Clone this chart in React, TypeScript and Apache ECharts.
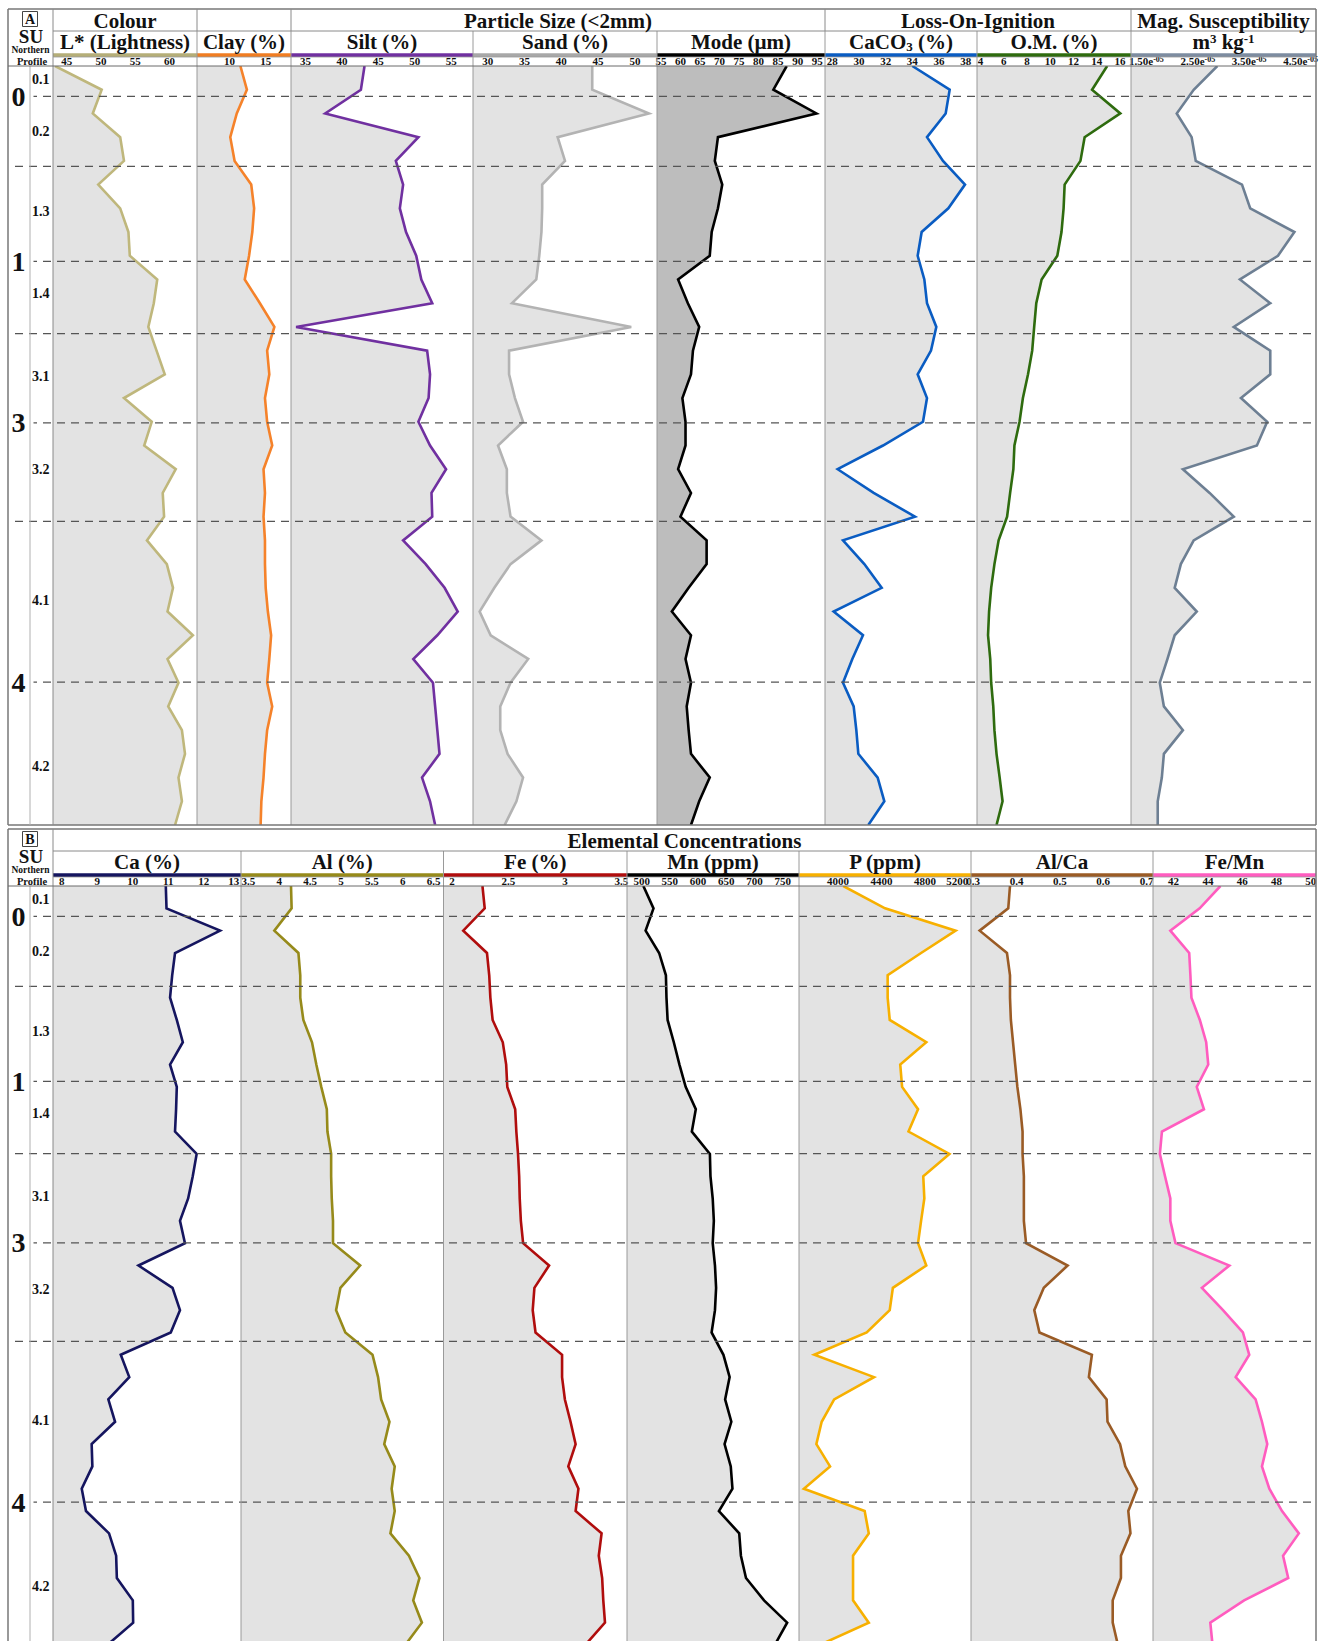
import React, { useEffect, useRef } from "react";
import * as echarts from "echarts";

const SERIF = '"Liberation Serif", "Times New Roman", Times, serif';
const FILL = "#e3e3e3";
const FILL_DARK = "#bdbdbd";
const PLOT_H = 759;
const DEPTH_MAX = 160;

// Sample depths (cm below the profile top)
const depthsA = [0, 5, 10, 15, 20, 25, 30, 35, 40, 45, 50, 55, 60, 65, 70, 75, 80, 85, 90, 95, 100, 105, 110, 115, 120, 125, 130, 135, 140, 145, 150, 155, 160];
const depthsB = [0, 4.71, 9.41, 14.12, 18.82, 23.53, 28.24, 32.94, 37.65, 42.35, 47.06, 51.76, 56.47, 61.18, 65.88, 70.59, 75.29, 80, 84.71, 89.41, 94.12, 98.82, 103.53, 108.24, 112.94, 117.65, 122.35, 127.06, 131.76, 136.47, 141.18, 145.88, 150.59, 155.29, 160];

// Stratigraphic unit boundaries and labels
const unitBoundaries = [6.4, 21.15, 41.2, 56.4, 75.25, 96.0, 129.9];
const suDepths = [6.4, 41.2, 75.25, 129.9];
const suLabels = ["0", "1", "3", "4"];
const profileDepths = [2.95, 13.85, 30.7, 47.9, 65.5, 85.0, 112.6, 147.6];
const profileLabels = ["0.1", "0.2", "1.3", "1.4", "3.1", "3.2", "4.1", "4.2"];

// Panel A series
const lightness = [43.3, 50.1, 48.8, 52.8, 53.35, 49.6, 52.8, 54.0, 54.2, 58.2, 57.7, 56.9, 58.1, 59.3, 53.35, 57.4, 56.3, 60.9, 59.0, 59.2, 56.7, 59.6, 60.5, 59.7, 63.4, 59.7, 61.3, 59.8, 61.8, 62.25, 61.3, 61.8, 60.8];
const clay = [11.5, 12.4, 11.0, 10.1, 10.7, 13.0, 13.4, 13.15, 12.7, 12.1, 14.2, 16.2, 15.2, 15.5, 14.9, 15.2, 15.9, 14.7, 14.9, 14.7, 14.9, 14.9, 15.0, 15.3, 15.75, 15.5, 15.2, 15.9, 15.2, 14.9, 14.7, 14.4, 14.3];
const silt = [43.1, 42.6, 37.7, 50.5, 47.4, 48.4, 47.95, 48.8, 50.2, 50.9, 52.4, 33.7, 51.7, 52.1, 51.9, 50.5, 52.1, 54.3, 52.3, 52.4, 48.4, 51.5, 54.1, 55.9, 53.1, 49.8, 52.5, 52.8, 53.1, 53.4, 51.0, 52.1, 52.8];
const sand = [44.2, 44.2, 51.9, 39.5, 40.5, 37.4, 37.4, 37.3, 37.0, 36.6, 33.3, 49.5, 32.9, 32.9, 33.7, 34.8, 31.4, 32.6, 32.6, 33.1, 37.3, 33.1, 30.9, 28.9, 30.4, 35.5, 33.1, 31.7, 31.7, 32.7, 34.8, 33.9, 32.3];
const mode = [87.2, 83.8, 94.8, 69.6, 68.8, 70.7, 69.6, 68.0, 67.5, 59.4, 61.9, 64.8, 63.2, 62.7, 60.5, 61.3, 61.3, 59.4, 62.7, 60.0, 66.7, 66.7, 62.1, 57.8, 62.7, 61.3, 62.7, 61.6, 62.1, 62.7, 67.5, 64.8, 62.7];
const caco3 = [34.0, 36.8, 36.5, 35.1, 36.3, 37.95, 36.7, 34.7, 34.4, 34.9, 35.1, 35.8, 35.4, 34.4, 35.1, 34.8, 31.8, 28.4, 31.1, 34.2, 28.8, 30.4, 31.7, 28.1, 30.3, 29.5, 28.8, 29.6, 29.8, 29.95, 31.4, 31.9, 30.7];
const organic = [14.9, 13.6, 16.03, 12.96, 12.6, 11.24, 11.15, 10.97, 10.61, 9.26, 8.8, 8.62, 8.45, 8.09, 7.65, 7.36, 6.92, 6.83, 6.55, 6.29, 5.56, 5.2, 4.92, 4.74, 4.65, 4.84, 4.92, 5.1, 5.2, 5.38, 5.65, 5.9, 5.38];
const magSus = [2.88, 2.42, 2.09, 2.38, 2.46, 3.36, 3.52, 4.38, 4.06, 3.32, 3.91, 3.2, 3.91, 3.91, 3.34, 3.85, 3.65, 2.21, 2.73, 3.2, 2.42, 2.17, 2.05, 2.48, 2.05, 1.91, 1.76, 1.84, 2.21, 1.84, 1.8, 1.72, 1.72];

// Panel B series
const calcium = [10.93, 10.95, 12.46, 11.19, 11.11, 11.05, 11.24, 11.41, 11.05, 11.24, 11.22, 11.19, 11.8, 11.69, 11.56, 11.33, 11.47, 10.16, 11.12, 11.33, 11.07, 9.66, 9.9, 9.31, 9.5, 8.84, 8.86, 8.56, 8.68, 9.33, 9.53, 9.55, 10.0, 10.01, 9.28];
const aluminium = [4.19, 4.2, 3.92, 4.31, 4.34, 4.34, 4.39, 4.53, 4.6, 4.68, 4.77, 4.78, 4.84, 4.84, 4.85, 4.87, 4.87, 5.31, 4.99, 4.92, 5.07, 5.51, 5.6, 5.65, 5.785, 5.7, 5.87, 5.82, 5.87, 5.8, 6.1, 6.27, 6.17, 6.31, 6.04];
const iron = [2.27, 2.29, 2.1, 2.31, 2.33, 2.34, 2.36, 2.45, 2.48, 2.49, 2.56, 2.57, 2.585, 2.595, 2.6, 2.61, 2.63, 2.86, 2.73, 2.715, 2.74, 2.975, 2.975, 3.0, 3.05, 3.095, 3.03, 3.12, 3.095, 3.325, 3.3, 3.33, 3.34, 3.355, 3.18];
const manganese = [503, 521, 507, 531, 543, 544, 546, 557, 567, 578, 596, 589, 621, 622, 626, 628, 626, 630, 632, 630, 624, 645, 656, 648, 659, 647, 658, 661, 637, 673, 676, 685, 717, 758, 736];
const phosphorus = [4048, 4433, 5083, 4765, 4457, 4457, 4476, 4813, 4573, 4590, 4737, 4649, 5026, 4785, 4795, 4765, 4737, 4813, 4505, 4476, 4264, 3781, 4331, 3964, 3849, 3800, 3926, 3685, 4245, 4283, 4138, 4138, 4138, 4283, 3830];
const alCa = [0.385, 0.381, 0.315, 0.378, 0.385, 0.385, 0.387, 0.392, 0.397, 0.402, 0.409, 0.414, 0.414, 0.417, 0.417, 0.417, 0.422, 0.518, 0.463, 0.441, 0.453, 0.574, 0.567, 0.608, 0.61, 0.639, 0.651, 0.678, 0.658, 0.663, 0.641, 0.641, 0.622, 0.622, 0.634];
const feMn = [44.73, 43.52, 41.81, 42.91, 42.98, 43.04, 43.53, 43.9, 44.02, 43.35, 43.77, 41.32, 41.2, 41.5, 41.81, 41.81, 42.11, 45.25, 43.65, 44.88, 46.04, 46.41, 45.62, 46.78, 47.15, 47.46, 47.15, 47.58, 48.32, 49.3, 48.38, 48.68, 46.11, 44.14, 44.27];

// Axis tick values
const lightTicks = [45, 50, 55, 60];
const clayTicks = [10, 15];
const siltTicks = [35, 40, 45, 50, 55];
const sandTicks = [30, 35, 40, 45, 50];
const modeTicks = [55, 60, 65, 70, 75, 80, 85, 90, 95];
const caco3Ticks = [28, 30, 32, 34, 36, 38];
const omTicks = [4, 6, 8, 10, 12, 14, 16];
const magTicks = [1.5, 2.5, 3.5, 4.5];
const caTicks = [8, 9, 10, 11, 12, 13];
const alTicks = [3.5, 4, 4.5, 5, 5.5, 6, 6.5];
const feTicks = [2, 2.5, 3, 3.5];
const mnTicks = [500, 550, 600, 650, 700, 750];
const pTicks = [4000, 4400, 4800, 5200];
const alCaTicks = [0.3, 0.4, 0.5, 0.6, 0.7];
const feMnTicks = [42, 44, 46, 48, 50];

type Column = {
  title: string;
  x0: number;
  x1: number;
  min: number;
  max: number;
  ticks: number[];
  tickLabel?: (v: number) => string;
  alignLast?: string;
  color: string;
  bar: string;
  fill: string;
  values: number[];
  depths: number[];
};

const plain = (v: number) => String(+v.toFixed(2));
const sci = (v: number) => `{m|${v.toFixed(2)}e}{e|-05}`;

const columnsA: Column[] = [
  { title: "L* (Lightness)", x0: 53, x1: 197, min: 43, max: 64, ticks: lightTicks, color: "#bfb77c", bar: "#b5ae78", fill: FILL, values: lightness, depths: depthsA },
  { title: "Clay (%)", x0: 197, x1: 291, min: 5.5, max: 18.5, ticks: clayTicks, color: "#f5822a", bar: "#f07d22", fill: FILL, values: clay, depths: depthsA },
  { title: "Silt (%)", x0: 291, x1: 473, min: 33, max: 58, ticks: siltTicks, color: "#7030a0", bar: "#7030a0", fill: FILL, values: silt, depths: depthsA },
  { title: "Sand (%)", x0: 473, x1: 657, min: 28, max: 53, ticks: sandTicks, color: "#b3b3b3", bar: "#a8a8a8", fill: FILL, values: sand, depths: depthsA },
  { title: "Mode (µm)", x0: 657, x1: 825, min: 54, max: 97, ticks: modeTicks, color: "#000000", bar: "#000000", fill: FILL_DARK, values: mode, depths: depthsA },
  { title: "{a|CaCO}{s|3}{a| (%)}", x0: 825, x1: 977, min: 27.45, max: 38.85, ticks: caco3Ticks, color: "#0a5cc2", bar: "#0a5cc2", fill: FILL, values: caco3, depths: depthsA },
  { title: "O.M. (%)", x0: 977, x1: 1131, min: 3.7, max: 16.95, ticks: omTicks, color: "#2e6b0e", bar: "#2e6b0e", fill: FILL, values: organic, depths: depthsA },
  { title: "{a|m}{p|3}{a| kg}{p|-1}", x0: 1131, x1: 1316, min: 1.2, max: 4.8, ticks: magTicks, tickLabel: sci, color: "#6d7f93", bar: "#7d8ca0", fill: FILL, values: magSus, depths: depthsA },
];

const columnsB: Column[] = [
  { title: "Ca (%)", x0: 53, x1: 241, min: 7.75, max: 13.05, ticks: caTicks, alignLast: "right", color: "#15155f", bar: "#15155f", fill: FILL, values: calcium, depths: depthsB },
  { title: "Al (%)", x0: 241, x1: 443.5, min: 3.38, max: 6.66, ticks: alTicks, color: "#968a1a", bar: "#968a1a", fill: FILL, values: aluminium, depths: depthsB },
  { title: "Fe (%)", x0: 443.5, x1: 627, min: 1.925, max: 3.55, ticks: feTicks, color: "#b00d0d", bar: "#b00d0d", fill: FILL, values: iron, depths: depthsB },
  { title: "Mn (ppm)", x0: 627, x1: 799, min: 474, max: 779, ticks: mnTicks, color: "#000000", bar: "#000000", fill: FILL, values: manganese, depths: depthsB },
  { title: "P (ppm)", x0: 799, x1: 971, min: 3640, max: 5225, ticks: pTicks, alignLast: "right", color: "#f7b000", bar: "#f7b000", fill: FILL, values: phosphorus, depths: depthsB },
  { title: "Al/Ca", x0: 971, x1: 1153, min: 0.295, max: 0.715, ticks: alCaTicks, color: "#9a5b25", bar: "#9a5b25", fill: FILL, values: alCa, depths: depthsB },
  { title: "Fe/Mn", x0: 1153, x1: 1316, min: 40.8, max: 50.3, ticks: feMnTicks, color: "#ff5cbf", bar: "#ff5cbf", fill: FILL, values: feMn, depths: depthsB },
];

type Panel = {
  letter: string;
  top: number;
  plotTop: number;
  closed: boolean;
  groups: { text: string; x0: number; x1: number }[];
  columns: Column[];
};

const panels: Panel[] = [
  {
    letter: "A",
    top: 9,
    plotTop: 66,
    closed: true,
    groups: [
      { text: "Colour", x0: 53, x1: 197 },
      { text: "", x0: 197, x1: 291 },
      { text: "Particle Size (<2mm)", x0: 291, x1: 825 },
      { text: "Loss-On-Ignition", x0: 825, x1: 1131 },
      { text: "Mag. Susceptibility", x0: 1131, x1: 1316 },
    ],
    columns: columnsA,
  },
  {
    letter: "B",
    top: 829,
    plotTop: 886,
    closed: false,
    groups: [{ text: "Elemental Concentrations", x0: 53, x1: 1316 }],
    columns: columnsB,
  },
];

const TITLE_RICH = {
  a: { fontFamily: SERIF, fontWeight: "bold", fontSize: 21, fill: "#111" },
  s: { fontFamily: SERIF, fontWeight: "bold", fontSize: 13, fill: "#111", verticalAlign: "bottom", padding: [8, 0, 0, 0] },
  p: { fontFamily: SERIF, fontWeight: "bold", fontSize: 13, fill: "#111", verticalAlign: "top", padding: [0, 0, 6, 0] },
};

const TICK_RICH = {
  m: { fontFamily: SERIF, fontWeight: "bold", fontSize: 11, color: "#111" },
  e: { fontFamily: SERIF, fontWeight: "bold", fontSize: 8, color: "#111", verticalAlign: "top", padding: [0, 0, 4, 0] },
};

function buildOption() {
  const grids: any[] = [];
  const xAxes: any[] = [];
  const yAxes: any[] = [];
  const series: any[] = [];
  const graphics: any[] = [];

  const line = (x1: number, y1: number, x2: number, y2: number, stroke: string, lineWidth = 1) =>
    graphics.push({ type: "line", z: 20, silent: true, shape: { x1, y1, x2, y2 }, style: { stroke, lineWidth } });
  const text = (x: number, y: number, t: string, size: number, extra: any = {}) =>
    graphics.push({
      type: "text",
      z: 21,
      silent: true,
      x,
      y,
      style: { text: t, font: `bold ${size}px ${SERIF}`, fill: "#111", align: "center", verticalAlign: "middle", ...extra },
    });

  const addGrid = (left: number, top: number, width: number) => {
    grids.push({ left, top, width, height: PLOT_H, show: false, containLabel: false, outerBoundsMode: "none" });
    return grids.length - 1;
  };
  const hiddenX = (gi: number) => ({ gridIndex: gi, type: "value", min: 0, max: 1, show: false });
  const depthY = (gi: number, extra: any = {}) => ({
    gridIndex: gi,
    type: "value",
    inverse: true,
    min: 0,
    max: DEPTH_MAX,
    show: false,
    splitLine: { show: false },
    ...extra,
  });

  panels.forEach((panel) => {
    const t = panel.top;
    const pt = panel.plotTop;
    const bottom = panel.closed ? pt + PLOT_H : 1641;

    // profile columns
    panel.columns.forEach((col) => {
      const gi = addGrid(col.x0, pt, col.x1 - col.x0);
      xAxes.push({
        gridIndex: gi,
        type: "value",
        min: col.min,
        max: col.max,
        position: "top",
        axisLine: { show: false },
        axisTick: { show: false },
        splitLine: { show: false },
        axisLabel: {
          show: true,
          customValues: col.ticks,
          formatter: col.tickLabel ?? plain,
          margin: 0,
          fontSize: 11,
          lineHeight: 11,
          fontWeight: "bold",
          fontFamily: SERIF,
          color: "#111",
          hideOverlap: false,
          alignMaxLabel: col.alignLast ?? null,
          rich: TICK_RICH,
        },
      });
      yAxes.push(depthY(gi));
      series.push({
        type: "custom",
        xAxisIndex: gi,
        yAxisIndex: gi,
        clip: true,
        silent: true,
        z: 2,
        data: col.values.map((v, j) => [v, col.depths[j]]),
        encode: { x: 0, y: 1 },
        renderItem: (params: any, api: any) => {
          if (params.dataIndex !== 0) return null;
          const pts = col.values.map((v, j) => api.coord([v, col.depths[j]]));
          const first = api.coord([col.min, col.depths[0]]);
          const last = api.coord([col.min, col.depths[col.depths.length - 1]]);
          return {
            type: "group",
            children: [
              { type: "polygon", shape: { points: [first, ...pts, last] }, style: { fill: col.fill } },
              { type: "polyline", shape: { points: pts }, style: { stroke: col.color, lineWidth: 2.6, fill: "none", lineJoin: "miter" } },
            ],
          };
        },
      });

      // column title, colour key bar, separators
      text((col.x0 + col.x1) / 2, t + 33, col.title, 21, { rich: TITLE_RICH });
      graphics.push({
        type: "rect",
        z: 20,
        silent: true,
        shape: { x: col.x0, y: t + 44.3, width: col.x1 - col.x0, height: 3.6 },
        style: { fill: col.bar },
      });
      if (col.x0 > 53) line(col.x0, t + 22, col.x0, bottom, "#9a9a9a", 1);
    });

    // unit boundaries (dashed)
    const dg = addGrid(15, pt, 1301);
    xAxes.push(hiddenX(dg));
    yAxes.push(depthY(dg));
    series.push({
      type: "custom",
      xAxisIndex: dg,
      yAxisIndex: dg,
      silent: true,
      z: 5,
      data: unitBoundaries.map((b) => [0, b]),
      encode: { x: 0, y: 1 },
      renderItem: (params: any, api: any) => {
        const y = api.coord([0, api.value(1)])[1];
        const cs = params.coordSys;
        return {
          type: "line",
          shape: { x1: cs.x, y1: y, x2: cs.x + cs.width, y2: y },
          style: { stroke: "#555", lineWidth: 1.3, lineDash: [8, 6] },
        };
      },
    });

    // stratigraphic unit labels
    const sg = addGrid(8, pt, 22);
    xAxes.push(hiddenX(sg));
    yAxes.push(
      depthY(sg, {
        show: true,
        z: 10,
        axisLine: { show: false },
        axisTick: { show: false },
        axisLabel: {
          customValues: suDepths,
          formatter: (v: number) => {
            let best = 0;
            suDepths.forEach((d, i) => {
              if (Math.abs(d - v) < Math.abs(suDepths[best] - v)) best = i;
            });
            return suLabels[best];
          },
          inside: true,
          margin: 2.5,
          fontSize: 28,
          fontWeight: "bold",
          fontFamily: SERIF,
          color: "#111",
          backgroundColor: "#fff",
          padding: [0, 8, 0, 1],
          hideOverlap: false,
        },
      })
    );

    // northern profile sample labels
    const pg = addGrid(30, pt, 23);
    xAxes.push(hiddenX(pg));
    yAxes.push(
      depthY(pg, {
        show: true,
        z: 10,
        axisLine: { show: false },
        axisTick: { show: false },
        axisLabel: {
          customValues: profileDepths,
          formatter: (v: number) => {
            let best = 0;
            profileDepths.forEach((d, i) => {
              if (Math.abs(d - v) < Math.abs(profileDepths[best] - v)) best = i;
            });
            return profileLabels[best];
          },
          inside: true,
          margin: 2,
          fontSize: 14,
          fontWeight: "bold",
          fontFamily: SERIF,
          color: "#111",
          hideOverlap: false,
        },
      })
    );

    // frame
    line(8, t, 1316, t, "#777", 1.5);
    line(8, t, 8, bottom, "#777", 1.5);
    line(1316, t, 1316, bottom, "#777", 1.5);
    if (panel.closed) line(8, bottom, 1316, bottom, "#777", 1.5);
    line(53, t, 53, bottom, "#8a8a8a", 1);
    line(30, pt, 30, bottom, "#b0b0b0", 1);
    line(53, t + 22, 1316, t + 22, "#8a8a8a", 1);
    line(53, t + 48, 1316, t + 48, "#9a9a9a", 0.8);
    line(8, pt, 1316, pt, "#6a6a6a", 1);

    // group headings
    panel.groups.forEach((g) => {
      if (g.x0 > 53) line(g.x0, t, g.x0, t + 22, "#8a8a8a", 1);
      if (g.text) text((g.x0 + g.x1) / 2, t + 11.5, g.text, 21);
    });

    // left header block
    graphics.push({
      type: "rect",
      z: 20,
      silent: true,
      shape: { x: 22.5, y: t + 2.5, width: 15, height: 15 },
      style: { fill: "none", stroke: "#444", lineWidth: 1 },
    });
    text(30, t + 10, panel.letter, 14);
    text(31, t + 27, "SU", 19);
    text(30.5, t + 41, "Northern", 9.5);
    text(32, t + 52.5, "Profile", 10.5);
  });

  return {
    animation: false,
    backgroundColor: "#ffffff",
    grid: grids,
    xAxis: xAxes,
    yAxis: yAxes,
    series,
    graphic: { elements: graphics },
  };
}

export default function App() {
  const ref = useRef<HTMLDivElement>(null);
  useEffect(() => {
    if (!ref.current) return;
    const chart = echarts.init(ref.current, undefined, { renderer: "svg" });
    chart.setOption(buildOption() as any);
    return () => chart.dispose();
  }, []);
  return <div ref={ref} style={{ position: "absolute", left: 0, top: 0, width: 1322, height: 1641 }} />;
}
